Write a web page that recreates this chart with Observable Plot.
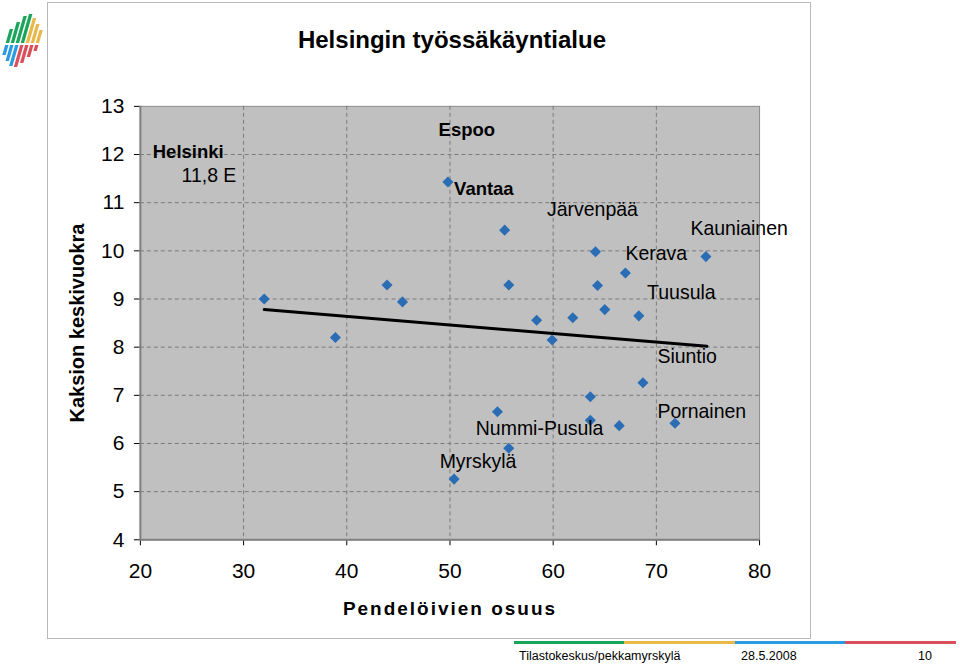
<!DOCTYPE html>
<html>
<head>
<meta charset="utf-8">
<script src="https://cdn.jsdelivr.net/npm/d3@7"></script>
<script src="https://cdn.jsdelivr.net/npm/@observablehq/plot@0.6"></script>
<style>
  html, body { margin: 0; padding: 0; background: #fff; }
  body { width: 960px; height: 664px; position: relative; overflow: hidden; font-family: "Liberation Sans", Arial, sans-serif; }
  #box { position: absolute; left: 47px; top: 2px; width: 762px; height: 635px; border: 1px solid #b8b8b8; }
  #chart { position: absolute; left: 0; top: 0; }
  #title { position: absolute; left: 202px; width: 500px; top: 26px; text-align: center; font-weight: bold; font-size: 24px; color: #000; }
  .foot { position: absolute; top: 649px; font-size: 12.5px; color: #000; }
  .bar { position: absolute; top: 641px; height: 3px; }
  #logo { position: absolute; left: 0px; top: 14px; }
</style>
</head>
<body>
<svg id="logo" width="46" height="62" viewBox="0 0 46 62">
  <g transform="translate(8,0) skewX(-16)">
    <rect x="6" y="15" width="3.4" height="14" fill="#1aa55a"/>
    <rect x="11" y="8" width="3.4" height="21" fill="#1aa55a"/>
    <rect x="16" y="2" width="3.4" height="27" fill="#1aa55a"/>
    <rect x="21" y="0" width="3.4" height="29" fill="#1aa55a"/>
    <rect x="26" y="4" width="3.4" height="25" fill="#e8b84a"/>
    <rect x="31" y="10" width="3.4" height="19" fill="#e8b84a"/>
    <rect x="36" y="16" width="3.4" height="13" fill="#e8b84a"/>
    <rect x="6" y="31" width="3.4" height="10" fill="#2a9be0"/>
    <rect x="11" y="31" width="3.4" height="16" fill="#2a9be0"/>
    <rect x="16" y="31" width="3.4" height="21" fill="#2a9be0"/>
    <rect x="21" y="31" width="3.4" height="22" fill="#d9505a"/>
    <rect x="26" y="31" width="3.4" height="18" fill="#d9505a"/>
    <rect x="31" y="31" width="3.4" height="12" fill="#d9505a"/>
    <rect x="36" y="31" width="3.4" height="6" fill="#d9505a"/>
  </g>
</svg>
<div id="box"><div id="chart"></div></div>
<div id="title">Helsingin työssäkäyntialue</div>
<div class="bar" style="left:514px;width:110px;background:#1aa55a"></div>
<div class="bar" style="left:624px;width:111px;background:#e8b84a"></div>
<div class="bar" style="left:735px;width:110px;background:#2a9be0"></div>
<div class="bar" style="left:845px;width:111px;background:#d9505a"></div>
<div class="foot" style="left:519px">Tilastokeskus/pekkamyrskylä</div>
<div class="foot" style="left:741px">28.5.2008</div>
<div class="foot" style="left:918px">10</div>
<script>
// Commuter share (%) and two-room rent (€/m²) per municipality
const pendelointi = [32.0, 38.9, 43.9, 45.4, 49.8, 55.3, 55.7, 58.4, 59.9, 61.9, 64.1, 64.3, 65.0, 67.0, 68.3, 74.8,
                     68.7, 63.6, 54.6, 63.6, 66.4, 71.8, 55.7, 50.4];
const vuokra     = [9.00, 8.20, 9.29, 8.94, 11.43, 10.43, 9.29, 8.56, 8.15, 8.61, 9.98, 9.28, 8.78, 9.54, 8.65, 9.88,
                     7.26, 6.97, 6.66, 6.48, 6.37, 6.42, 5.90, 5.26];

// Trend line end points
const trendX = [32.0, 74.9];
const trendY = [8.78, 8.02];

// Labels
const labelText = ["Helsinki", "11,8 E", "Espoo", "Vantaa", "Järvenpää", "Kauniainen", "Kerava", "Tuusula", "Siuntio", "Pornainen", "Nummi-Pusula", "Myrskylä"];
const labelX    = [21.2, 29.3, 48.9, 50.4, 59.4, 73.3, 67.0, 69.1, 70.1, 70.1, 52.5, 49.0];
const labelY    = [12.05, 11.55, 12.5, 11.28, 10.86, 10.45, 9.94, 9.13, 7.80, 6.65, 6.31, 5.62];
const labelKind = ["bold", "end", "bold", "bold", "start", "start", "start", "start", "start", "start", "start", "start"];

const xTicks = [20, 30, 40, 50, 60, 70, 80];
const yTicks = [4, 5, 6, 7, 8, 9, 10, 11, 12, 13];
const xGrid = [30, 40, 50, 60, 70];
const yGrid = [5, 6, 7, 8, 9, 10, 11, 12];

const points = pendelointi.map((x, i) => ({x, y: vuokra[i]}));
const trend = trendX.map((x, i) => ({x, y: trendY[i]}));
const labels = labelText.map((t, i) => ({t, x: labelX[i], y: labelY[i], kind: labelKind[i]}));

const chart = Plot.plot({
  width: 763,
  height: 636,
  marginLeft: 92,
  marginRight: 51,
  marginTop: 103,
  marginBottom: 99,
  style: { fontFamily: "'Liberation Sans', Arial, sans-serif", fontSize: "21px", color: "#000", background: "transparent" },
  x: { domain: [20, 80], ticks: xTicks, tickSize: 6, tickPadding: 17, label: "Pendelöivien osuus", labelAnchor: "center", labelArrow: "none", labelOffset: 75 },
  y: { domain: [4, 13], ticks: yTicks, tickSize: 6, tickPadding: 10, label: "Kaksion keskivuokra", labelAnchor: "center", labelArrow: "none", labelOffset: 71 },
  marks: [
    Plot.frame({ fill: "#c0c0c0", stroke: "#8a8a8a" }),
    Plot.gridX(xGrid, { stroke: "#7a7a7a", strokeOpacity: 1, strokeDasharray: "4,3", strokeWidth: 1 }),
    Plot.gridY(yGrid, { stroke: "#7a7a7a", strokeOpacity: 1, strokeDasharray: "4,3", strokeWidth: 1 }),
    Plot.ruleX([20], { stroke: "#7f7f7f", strokeWidth: 2 }),
    Plot.ruleY([4], { stroke: "#7f7f7f", strokeWidth: 2 }),
    Plot.line(trend, { x: "x", y: "y", stroke: "#000", strokeWidth: 3 }),
    Plot.dot(points, { x: "x", y: "y", symbol: "diamond2", r: 5, fill: "#2a6db5", stroke: "none" }),
    Plot.text(labels.filter(d => d.kind === "bold"), { x: "x", y: "y", text: "t", textAnchor: "start", fontWeight: "bold", fontSize: 18.5, fill: "#000", letterSpacing: "1px" }),
    Plot.text(labels.filter(d => d.kind === "start"), { x: "x", y: "y", text: "t", textAnchor: "start", fontSize: 19.5, fill: "#000" }),
    Plot.text(labels.filter(d => d.kind === "end"), { x: "x", y: "y", text: "t", textAnchor: "end", fontSize: 19.5, fill: "#000" })
  ]
});
document.getElementById("chart").appendChild(chart);
const svg = d3.select(chart);
svg.selectAll("[aria-label='x-axis label'] text")
  .attr("font-weight", "bold").attr("letter-spacing", "2px").attr("font-size", "19px");
svg.selectAll("[aria-label='y-axis label'] text")
  .attr("font-weight", "bold").attr("font-size", "20px");
</script>
</body>
</html>
